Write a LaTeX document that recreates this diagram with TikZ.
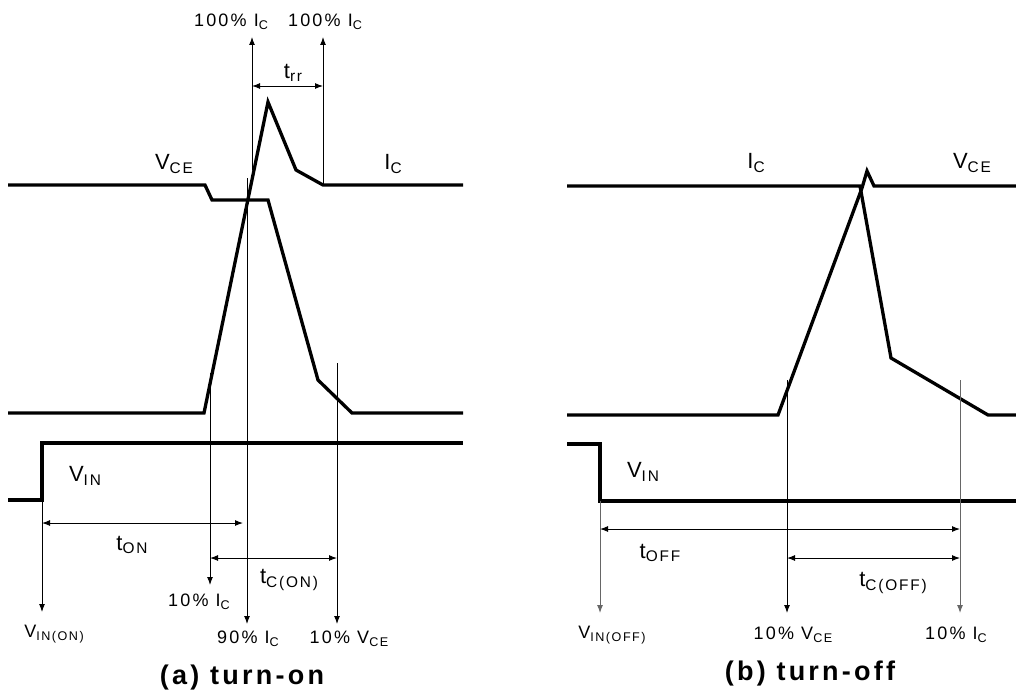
\documentclass[tikz,border=0pt]{standalone}
\usepackage{fontspec}
\setmainfont{Liberation Sans}
\newfontfamily\spfont[LetterSpace=12]{Liberation Sans}
\usetikzlibrary{arrows.meta}
\newcommand{\lsub}[1]{\raisebox{-0.3ex}{\scalebox{0.7}{#1}}}
\begin{document}
\begin{tikzpicture}[x=1pt,y=-1pt,
  wave/.style={line width=3.3pt,line join=miter},
  thin/.style={line width=1pt},
  grayline/.style={line width=1pt,black!60},
  arr/.style={-{Latex[length=8pt,width=6pt]}},
  darr/.style={{Latex[length=8pt,width=6pt]}-{Latex[length=8pt,width=6pt]}},
  lbl/.style={inner sep=0pt,font=\spfont\fontsize{18}{20}\selectfont},
  big/.style={inner sep=0pt,font=\spfont\fontsize{22}{24}\selectfont},
  ttl/.style={inner sep=0pt,font=\spfont\fontsize{27}{29}\selectfont\bfseries}]
\useasboundingbox (0,0) rectangle (1016,693);
% ---------- (a) turn-on ----------
% V_CE waveform
\draw[wave] (8,185) -- (205,185) -- (212,200) -- (268,200) -- (318,380) -- (352,413) -- (463,413);
% I_C waveform
\draw[wave] (8,413) -- (204,413) -- (268,102) -- (296,170) -- (323,185) -- (463,185);
% V_IN
\draw[wave] (8,500) -- (42,500) -- (42,443) -- (463,443);
% coordinates for reference lines
\coordinate (a100a) at (252,170);
\coordinate (a100at) at (252,37);
\coordinate (a100b) at (323,185);
\coordinate (a100bt) at (323,37);
\coordinate (a10i) at (210,373);
\coordinate (a10ie) at (210,585);
\coordinate (a90) at (247,178);
\coordinate (a90e) at (247,624);
\coordinate (a10v) at (337,363);
\coordinate (a10ve) at (337,624);
\coordinate (avin) at (42,500);
\coordinate (avine) at (42,612);
\draw[thin,arr] (a100a) -- (a100at);
\draw[thin,arr] (a100b) -- (a100bt);
\draw[thin,arr] (a10i) -- (a10ie);
\draw[thin,arr] (a90) -- (a90e);
\draw[thin,arr] (a10v) -- (a10ve);
\draw[thin,arr] (avin) -- (avine);
% dimension arrows
\coordinate (trrL) at (252,86);
\coordinate (trrR) at (323,86);
\draw[thin,darr] (trrL) -- (trrR);
\coordinate (tonL) at (42,523);
\coordinate (tonR) at (243,523);
\draw[thin,darr] (tonL) -- (tonR);
\coordinate (tcL) at (210,558);
\coordinate (tcR) at (337,558);
\draw[thin,darr] (tcL) -- (tcR);
% labels
\node[lbl] (l100a) at (231,22) {100\% I\lsub{C}};
\node[lbl] (l100b) at (325,22) {100\% I\lsub{C}};
\node[big] (ltrr) at (293,73) {t\lsub{rr}};
\node[big] (lvce) at (174,164) {V\lsub{CE}};
\node[big] (lic) at (393,164) {I\lsub{C}};
\node[big] (lvin) at (85,476) {V\lsub{IN}};
\node[big] (lton) at (132,545) {t\lsub{ON}};
\node[big] (ltcon) at (289,580) {t\lsub{C(ON)}};
\node[lbl] (l10ic) at (199,602) {10\% I\lsub{C}};
\node[lbl] (lvinon) at (54,634) {V\lsub{IN(ON)}};
\node[lbl] (l90ic) at (248,639) {90\% I\lsub{C}};
\node[lbl] (l10vce) at (349,639) {10\% V\lsub{CE}};
\node[ttl] (ta) at (242,678) {(a) turn-on};
% ---------- (b) turn-off ----------
\draw[wave] (567,415) -- (778,415) -- (862,188) -- (867,171) -- (874,186) -- (1016,186);
\draw[wave] (567,186) -- (860,186) -- (891,358) -- (988,415) -- (1016,415);
\draw[wave] (567,444) -- (600,444) -- (600,501) -- (1016,501);
\coordinate (bvin) at (600,501);
\coordinate (bvine) at (600,613);
\coordinate (b10v) at (787,380);
\coordinate (b10ve) at (787,613);
\coordinate (b10i) at (960,380);
\coordinate (b10ie) at (960,613);
\draw[grayline,arr] (bvin) -- (bvine);
\draw[thin,arr] (b10v) -- (b10ve);
\draw[grayline,arr] (b10i) -- (b10ie);
\coordinate (toffL) at (600,529);
\coordinate (toffR) at (960,529);
\draw[thin,darr] (toffL) -- (toffR);
\coordinate (tcoffL) at (787,558);
\coordinate (tcoffR) at (960,558);
\draw[thin,darr] (tcoffL) -- (tcoffR);
\node[big] (blic) at (756,163) {I\lsub{C}};
\node[big] (blvce) at (972,163) {V\lsub{CE}};
\node[big] (blvin) at (643,472) {V\lsub{IN}};
\node[big] (bltoff) at (660,553) {t\lsub{OFF}};
\node[big] (bltcoff) at (893,583) {t\lsub{C(OFF)}};
\node[lbl] (blvinoff) at (612,635) {V\lsub{IN(OFF)}};
\node[lbl] (bl10vce) at (793,635) {10\% V\lsub{CE}};
\node[lbl] (bl10ic) at (956,635) {10\% I\lsub{C}};
\node[ttl] (tb) at (810,674) {(b) turn-off};
\end{tikzpicture}
\end{document}
